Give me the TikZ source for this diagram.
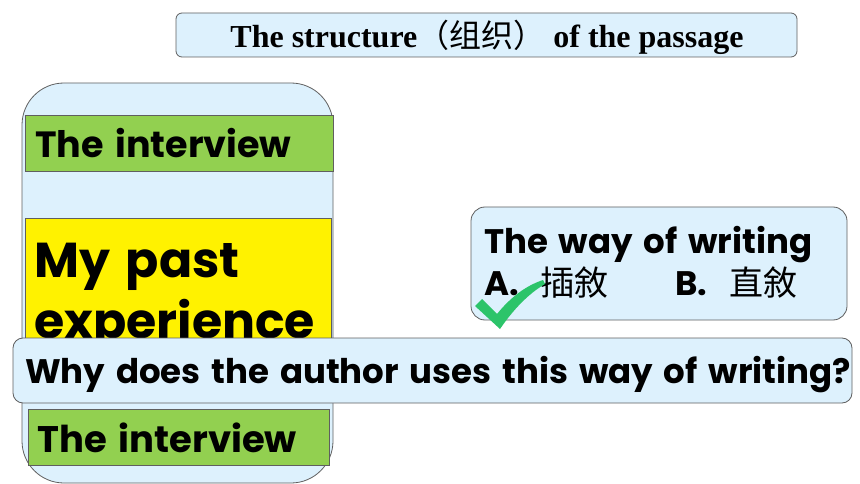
\documentclass[tikz,border=0pt]{standalone}
\usepackage{fontspec}
\setmainfont{Liberation Serif}
\newfontfamily\comic{Poppins}[WordSpace=1.5]
\newfontfamily\cjksc{Noto Sans CJK SC}
\newfontfamily\cjktc{Noto Sans CJK TC}
\definecolor{lblue}{HTML}{DDF1FD}
\definecolor{edgegray}{HTML}{5F5F5F}
\definecolor{lgreen}{HTML}{92D050}
\definecolor{ckgreen}{HTML}{2CC46A}
\tikzset{
  panel/.style={draw=edgegray, line width=0.8pt, fill=lblue},
  greenbox/.style={draw=edgegray, line width=0.8pt, fill=lgreen},
  yellowbox/.style={draw=edgegray, line width=0.6pt, fill=yellow},
  txt/.style={anchor=base west, inner sep=0pt, font=\comic\bfseries},
}
\begin{document}
\begin{tikzpicture}[x=1pt,y=-1pt]
\useasboundingbox (0,0) rectangle (860,484);
% title
\draw[panel, rounded corners=6pt] (176,13) rectangle (797,57);
\node[anchor=base, inner sep=0pt, font=\bfseries\fontsize{32}{34}\selectfont] (title) at (487,48)
  {The structure{\cjksc\mdseries（组织）} of the passage};
% left column
\draw[panel, rounded corners=42pt] (22,83) rectangle (333,483);
\draw[greenbox] (25,115) rectangle (333,171);
\node[txt, font=\comic\bfseries\fontsize{36.5}{38}\selectfont] (int1) at (35,158) {The interview};
\draw[yellowbox] (25,218) rectangle (331,360);
\node[txt, font=\comic\bfseries\fontsize{49}{60}\selectfont] (past1) at (34,277) {My past};
\node[txt, font=\comic\bfseries\fontsize{49}{60}\selectfont] (past2) at (34,338) {experience};
% way of writing
\draw[panel, rounded corners=14pt] (471,207) rectangle (847,320);
\node[txt, font=\comic\bfseries\fontsize{34}{38}\selectfont] (way) at (484,253) {The way of writing};
\node[txt, font=\comic\bfseries\fontsize{34}{38}\selectfont] (optA) at (484,295) {A.};
\node[txt, font=\cjktc\fontsize{34}{38}\selectfont] (optAt) at (540,295) {插敘};
\node[txt, font=\comic\bfseries\fontsize{34}{38}\selectfont] (optB) at (675,295) {B.};
\node[txt, font=\cjktc\fontsize{34}{38}\selectfont] (optBt) at (729,295) {直敘};
\fill[ckgreen] (475,306) -- (482,299) -- (497,314)
  .. controls (510,298) and (525,286) .. (543,280) -- (545,284)
  .. controls (528,294) and (513,310) .. (500,329) -- cycle;
% question
\draw[panel, rounded corners=10pt] (13,338) rectangle (852,403);
\node[txt, font=\comic\bfseries\fontsize{34}{38}\selectfont] (q) at (25,383) {Why does the author uses this way of writing?};
% bottom green
\draw[greenbox] (28,409) rectangle (329,465);
\node[txt, font=\comic\bfseries\fontsize{37}{38}\selectfont] (int2) at (37,452) {The interview};
\end{tikzpicture}
\end{document}
